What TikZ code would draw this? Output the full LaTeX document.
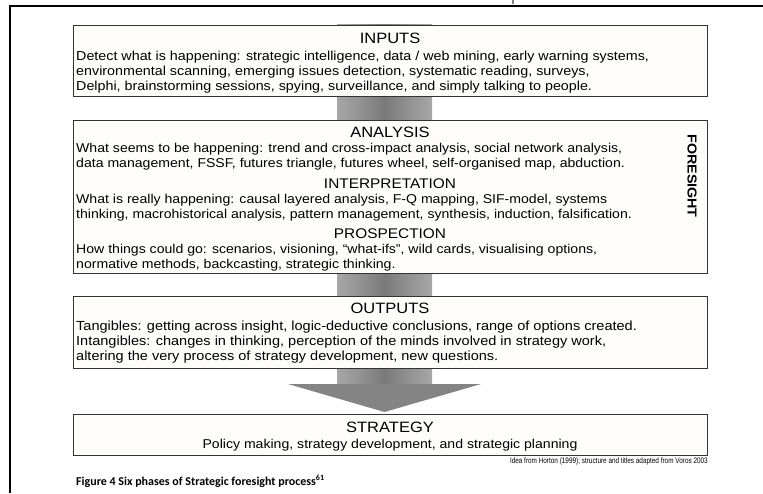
\documentclass[tikz,border=0pt]{standalone}
\usepackage{fontspec}
\setmainfont{Liberation Sans}
\newfontfamily\bodyf{Liberation Sans}[FakeStretch=1.1]
\newfontfamily\credf{Liberation Sans}[FakeStretch=0.8]
\newfontfamily\capf{Carlito}
\definecolor{bordercol}{HTML}{333333}
\definecolor{boxfill}{HTML}{FEFDFB}
\definecolor{shedge}{HTML}{A8A8A8}
\definecolor{shmid}{HTML}{7A7A7A}
\definecolor{headcol}{HTML}{848484}
\begin{document}
\begin{tikzpicture}[x=1pt,y=-1pt,
  phasebox/.style={draw=bordercol,line width=0.9pt,fill=boxfill},
  ttl/.style={anchor=base,inner sep=0pt,font=\bodyf\fontsize{15}{15}\selectfont},
  subttl/.style={anchor=base,inner sep=0pt,font=\bodyf\fontsize{14}{14}\selectfont},
  body/.style={anchor=base west,inner sep=0pt,font=\bodyf\fontsize{12.8}{15}\selectfont},
  bodyin/.style={body,font=\bodyf\fontsize{13}{15}\selectfont},
  bodyout/.style={body,font=\bodyf\fontsize{13.2}{15}\selectfont},
  credit/.style={anchor=base east,inner sep=0pt,font=\credf\fontsize{8}{9}\selectfont},
  figcap/.style={anchor=base west,inner sep=0pt,font=\capf\bfseries\fontsize{12}{13}\selectfont}]
\useasboundingbox (0,0) rectangle (763,493);
% outer frame
\draw[line width=2pt] (10,493) -- (10,6) -- (763,6);
\draw[line width=1.2pt,gray] (513,0) -- (513,4);
% arrow shaft and head
\shade[left color=shedge,right color=shedge,middle color=shmid] (337,24) rectangle (432,384.5);
\fill[headcol] (288,384) -- (481,384) -- (384.5,412) -- cycle;
% boxes
\coordinate (inNW) at (73,25);  \coordinate (inSE) at (707,96);
\coordinate (anNW) at (73,120); \coordinate (anSE) at (707,273);
\coordinate (outNW) at (73,296);\coordinate (outSE) at (707,368);
\coordinate (stNW) at (73,414); \coordinate (stSE) at (707,455);
\draw[phasebox] (inNW) rectangle (inSE);
\draw[phasebox] (anNW) rectangle (anSE);
\draw[phasebox] (outNW) rectangle (outSE);
\draw[phasebox] (stNW) rectangle (stSE);
% INPUTS
\node[ttl] (tin) at (390,43) {INPUTS};
\node[bodyin] (in1) at (76,60) {Detect what is happening: strategic intelligence, data / web mining, early warning systems,};
\node[bodyin] (in2) at (76,75) {environmental scanning, emerging issues detection, systematic reading, surveys,};
\node[bodyin] (in3) at (76,90) {Delphi, brainstorming sessions, spying, surveillance, and simply talking to people.};
% ANALYSIS
\node[ttl] (tan) at (390,137) {ANALYSIS};
\node[body] (an1) at (76,152) {What seems to be happening: trend and cross-impact analysis, social network analysis,};
\node[body] (an2) at (76,167) {data management, FSSF, futures triangle, futures wheel, self-organised map, abduction.};
\node[subttl] (tint) at (390,188) {INTERPRETATION};
\node[body] (ip1) at (76,203) {What is really happening: causal layered analysis, F-Q mapping, SIF-model, systems};
\node[body] (ip2) at (76,218) {thinking, macrohistorical analysis, pattern management, synthesis, induction, falsification.};
\node[subttl] (tpr) at (390,238) {PROSPECTION};
\node[body] (pr1) at (76,253) {How things could go: scenarios, visioning, “what-ifs”, wild cards, visualising options,};
\node[body] (pr2) at (76,268) {normative methods, backcasting, strategic thinking.};
\node[rotate=-90,inner sep=0pt,font=\bodyf\bfseries\fontsize{13}{13}\selectfont] (fore) at (692,176) {FORESIGHT};
% OUTPUTS
\node[ttl] (tout) at (390,313) {OUTPUTS};
\node[bodyout] (ou1) at (76,330) {Tangibles: getting across insight, logic-deductive conclusions, range of options created.};
\node[bodyout] (ou2) at (76,345) {Intangibles: changes in thinking, perception of the minds involved in strategy work,};
\node[bodyout] (ou3) at (76,360) {altering the very process of strategy development, new questions.};
% STRATEGY
\node[ttl] (tst) at (390,432) {STRATEGY};
\node[body,anchor=base] (st1) at (390,448) {Policy making, strategy development, and strategic planning};
% credit and caption
\node[credit] (cred) at (708,463) {Idea from Horton (1999); structure and titles adapted from Voros 2003};
\node[figcap] (cap) at (76,485) {Figure 4 Six phases of Strategic foresight process\textsuperscript{61}};
\end{tikzpicture}
\end{document}
